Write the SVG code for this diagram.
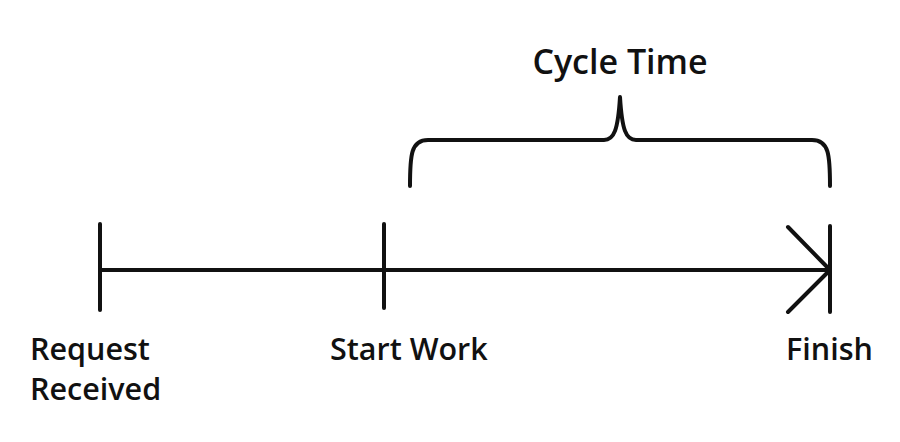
<svg xmlns="http://www.w3.org/2000/svg" width="900" height="442" viewBox="0 0 900 442">
<style>
.l{stroke:#111;stroke-width:4;fill:none;stroke-linecap:round;stroke-linejoin:round}
text{font-family:"Open Sans","Liberation Sans",sans-serif;font-weight:600;fill:#111}
</style>
<rect width="900" height="442" fill="#fff"/>
<g id="connectors">
<path class="l" d="M100 270 H830"/>
<path class="l" d="M788 227 L830 270 L788 312"/>
<path class="l" d="M410 186 C410 155 411 140 428 140 H604 C614 140 618 130 620 97 C622 130 626 140 636 140 H812 C829 140 830 155 830 186"/>
</g>
<g id="request"><path class="l" d="M100 224 V310"/><text x="30" y="360" font-size="30.5">Request</text><text x="30" y="400" font-size="30.5">Received</text></g>
<g id="start"><path class="l" d="M384 224 V308"/><text x="330" y="360" font-size="30.5">Start Work</text></g>
<g id="finish"><path class="l" d="M830 226 V312"/><text x="786" y="360" font-size="30.5">Finish</text></g>
<g id="cycle"><text x="620" y="74" font-size="34" text-anchor="middle">Cycle Time</text></g>
</svg>
